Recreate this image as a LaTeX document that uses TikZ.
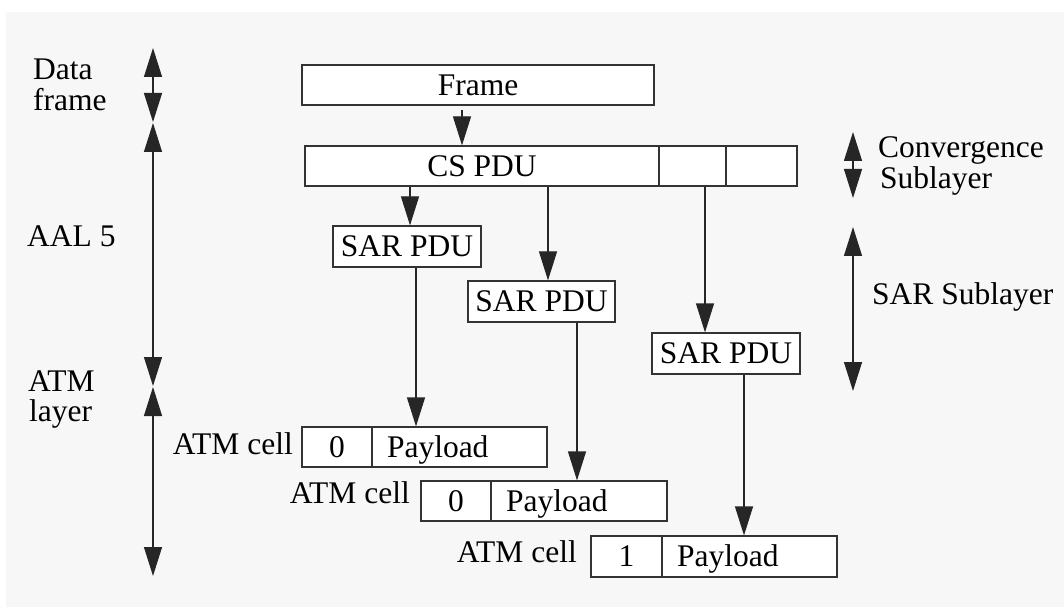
\documentclass[tikz,border=0pt]{standalone}
\usepackage{fontspec}
\setmainfont{Liberation Serif}
\usetikzlibrary{arrows.meta}
\begin{document}
\begin{tikzpicture}[x=1pt,y=-1pt,
  lbl/.style={font=\fontsize{31.5}{31.5}\selectfont, inner sep=0pt, anchor=base west},
  lble/.style={font=\fontsize{31.5}{31.5}\selectfont, inner sep=0pt, anchor=base east},
  box/.style={draw=black!80, line width=1.2pt, fill=white, inner sep=0pt,
    font=\fontsize{31.5}{31.5}\selectfont, text height=20.5pt, text depth=0pt},
  paybox/.style={box, align=left, inner xsep=15pt},
  arr/.style={-{Triangle[length=29pt,width=18pt]}, line width=1.2pt, draw=black!85},
  darr/.style={{Triangle[length=29pt,width=18pt]}-{Triangle[length=29pt,width=18pt]}, line width=1.2pt, draw=black!85}
]
\useasboundingbox (0,0) rectangle (1064,609);
\fill[black!3] (6,12) rectangle (1064,607);

% left labels
\node[lbl] (ldata) at (33,80) {Data};
\node[lbl] (lframe) at (33,111) {frame};
\node[lbl] (laal) at (27,247) {AAL 5};
\node[lbl] (latm) at (28,391) {ATM};
\node[lbl] (llayer) at (29,421) {layer};
% right labels
\node[lbl] (lconv) at (878,158) {Convergence};
\node[lbl] (lsub) at (880,188.5) {Sublayer};
\node[lbl] (lsar) at (872,304) {SAR Sublayer};

% scale arrows
\coordinate (d1) at (153,48);  \coordinate (d2) at (153,122);
\coordinate (a1) at (153,123); \coordinate (a2) at (153,386);
\coordinate (t1) at (153,387); \coordinate (t2) at (153,576);
\coordinate (c1) at (853,132); \coordinate (c2) at (853,198);
\coordinate (s1) at (853,227); \coordinate (s2) at (853,391);
\draw[darr] (d1) -- (d2);
\draw[darr] (a1) -- (a2);
\draw[darr] (t1) -- (t2);
\draw[darr] (c1) -- (c2);
\draw[darr] (s1) -- (s2);

% boxes
\node[box, minimum width=352pt, minimum height=40pt] (frame) at (478,85) {Frame};
\node[box, minimum width=354pt, minimum height=40pt] (cs) at (482,166) {CS PDU};
\node[box, minimum width=67pt, minimum height=40pt] (cs2) at (692.5,166) {};
\node[box, minimum width=71pt, minimum height=40pt] (cs3) at (761.5,166) {};

\node[box, minimum width=148pt, minimum height=41pt] (sar1) at (407,246.5) {SAR PDU};
\node[box, minimum width=147pt, minimum height=41pt] (sar2) at (541.5,301.5) {SAR PDU};
\node[box, minimum width=148pt, minimum height=41pt] (sar3) at (726,353.5) {SAR PDU};

\node[box, minimum width=70pt, minimum height=40pt] (hdr1) at (337,447) {0};
\node[paybox, text width=145pt, minimum height=40pt] (pay1) at (459.5,447) {Payload};
\node[box, minimum width=70pt, minimum height=40pt] (hdr2) at (456,501) {0};
\node[paybox, text width=146pt, minimum height=40pt] (pay2) at (579,501) {Payload};
\node[box, minimum width=71pt, minimum height=41pt] (hdr3) at (626.5,556.5) {1};
\node[paybox, text width=145pt, minimum height=41pt] (pay3) at (749.5,556.5) {Payload};

\node[lble] (lcell1) at (293,454) {ATM cell};
\node[lble] (lcell2) at (410,503) {ATM cell};
\node[lble] (lcell3) at (577,562) {ATM cell};

% connectors
\draw[arr, shorten <=4pt] ([xshift=-16pt]frame.south) -- ([xshift=-16pt]frame.south |- cs.north);
\draw[arr] ([xshift=3pt]sar1.north |- cs.south) -- ([xshift=3pt]sar1.north);
\draw[arr] ([xshift=6.5pt]sar2.north |- cs.south) -- ([xshift=6.5pt]sar2.north);
\draw[arr] ([xshift=-21pt]sar3.north |- cs2.south) -- ([xshift=-21pt]sar3.north);
\draw[arr] ([xshift=9pt]sar1.south) -- ([xshift=9pt]sar1.south |- pay1.north);
\draw[arr] ([xshift=35.5pt]sar2.south) -- ([xshift=35.5pt]sar2.south |- pay2.north);
\draw[arr] ([xshift=18pt]sar3.south) -- ([xshift=18pt]sar3.south |- pay3.north);
\end{tikzpicture}
\end{document}
